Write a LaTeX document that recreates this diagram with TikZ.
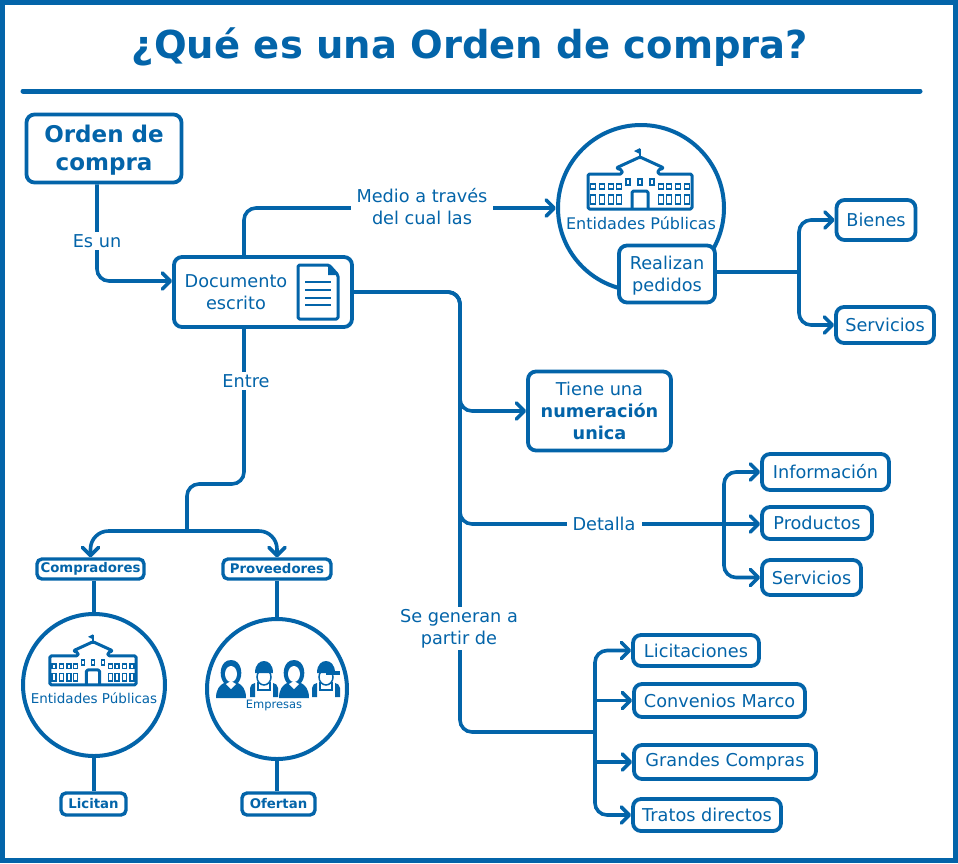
\documentclass[tikz,border=0pt]{standalone}
\usepackage{fontspec}
\setmainfont{DejaVu Sans}
\usetikzlibrary{arrows.meta}
\definecolor{ocblue}{HTML}{0364A9}
\newcommand{\tamano}[2]{\fontsize{#1}{#2}\selectfont}
\tikzset{
    link/.style={draw=ocblue, line width=3.6pt, rounded corners=12pt, >={Straight Barb[length=8pt,width=16pt,line width=3.6pt,round]}},
    caja/.style={draw=ocblue, line width=3.8pt, rounded corners=8pt, fill=white, text=ocblue, align=center, inner sep=0pt, font=\tamano{17.7}{22}},
    cajita/.style={caja, line width=3.4pt, rounded corners=5pt, font=\bfseries\tamano{13.3}{16}},
    rotulo/.style={fill=white, text=ocblue, align=center, inner sep=2pt, inner xsep=6pt, font=\tamano{17.7}{22}},
    redondo/.style={circle, draw=ocblue, line width=4pt, fill=white, inner sep=0pt},
    texto/.style={text=ocblue, align=center, inner sep=0pt},
    icono/.style={draw=ocblue, line width=3pt, rounded corners=1.5pt, line join=round},
    ventana/.style={draw=ocblue, line width=1.5pt},
    edificio/.pic={
        \draw[icono, fill=white] (-52,-5) -- (-18,-5) -- (-18,-9) -- (-24,-11) -- (0,-22) -- (24,-11) -- (18,-9) -- (18,-5)
            -- (52,-5) -- (52,30) -- (-52,30) -- cycle;
        \draw[ocblue, line width=2.5pt] (0,-22) -- (0,-30);
        \fill[ocblue] (0,-31) -- (-6,-28) -- (0,-25) -- cycle;
        \draw[icono] (-8,29) |- (8,12) -- (8,29);
        \foreach \vx in {-47,-38,-29,-21,21,29,38,47} {
            \draw[ventana] (\vx-2.5,5) rectangle (\vx+2.5,10);
            \draw[ventana] (\vx-2.5,16) rectangle (\vx+2.5,25);
        }
        \foreach \vx in {-12,0,12} \draw[ventana] (\vx-2,0) rectangle (\vx+2,6);
    },
    mujer/.pic={
        \fill[ocblue] (-15,0) .. controls (-15,-9) and (-11,-13) .. (-7,-15) .. controls (-13,-22) and (-11,-38) .. (0,-38)
            .. controls (11,-38) and (13,-22) .. (7,-15) .. controls (11,-13) and (15,-9) .. (15,0) -- cycle;
        \fill[white] (0,-24) ellipse (6pt and 8pt);
        \fill[white] (-5,-14) -- (0,-17) -- (5,-14) -- (0,-9) -- cycle;
    },
    obrero/.pic={
        \fill[ocblue] (-14,-1) -- (-14,-10) .. controls (-14,-13) and (-11,-15) .. (-9,-15) -- (-9,-1) -- cycle;
        \fill[ocblue] (14,-1) -- (14,-10) .. controls (14,-13) and (11,-15) .. (9,-15) -- (9,-1) -- cycle;
        \draw[ocblue, line width=1.5pt] (-6,-16) -- (-6,-8) -- (6,-8) -- (6,-16);
        \draw[ocblue, line width=1.5pt, fill=white] (0,-21) ellipse (7pt and 8pt);
        \fill[ocblue] (-9,-25) .. controls (-9,-34) and (-4,-37) .. (0,-37) .. controls (4,-37) and (9,-34) .. (9,-25) -- cycle;
    },
    hoja/.pic={
        \draw[icono, fill=white] (-20,-27) -- (11,-27) -- (20,-17) -- (20,27) -- (-20,27) -- cycle;
        \fill[ocblue] (10,-27) -- (10,-17) -- (20,-17) -- cycle;
        \foreach \ly in {-10,-2,6,13} \draw[ocblue, line width=2pt] (-13,\ly) -- (13,\ly);
    },
}

\begin{document}
\begin{tikzpicture}[x=1pt, y=-1pt]
    \useasboundingbox (0,0) rectangle (958,863);

    % Frame and title
    \draw[ocblue, line width=5pt] (2.5,2.5) rectangle (955.5,860.5);
    \node[texto, font=\bfseries\tamano{38.5}{46}] (titulo) at (470,47.5) {¿Qué es una Orden de compra?};
    \coordinate (reglaA) at (23,91);
    \coordinate (reglaB) at (920,91);
    \draw[ocblue, line width=5pt, line cap=round] (reglaA) -- (reglaB);

    % Left boxes
    \node[caja, minimum width=155, minimum height=68] (orden) at (104,148.5) {};
    \node[texto, font=\bfseries\tamano{23}{28}] (ordentxt) at (104,150.5) {Orden de\\compra};
    \node[caja, minimum width=178, minimum height=70] (doc) at (263,292) {};
    \node[texto, font=\tamano{17.7}{22}] (doctxt) at (236,292) {Documento\\escrito};
    \pic at (318,292) {hoja};

    % Public bodies, top
    \node[redondo, minimum size=166] (ent) at (641,208) {};
    \pic at (640,179) {edificio};
    \node[texto, font=\tamano{16}{20}] (enttxt) at (641,223) {Entidades Públicas};
    \node[caja, minimum width=96, minimum height=57] (pedidos) at (667,274) {};
    \node[texto, font=\tamano{17.7}{22}] (pedidostxt) at (667,276) {Realizan\\pedidos};
    \node[caja, minimum width=79, minimum height=40] (bienes) at (876,220) {Bienes};
    \node[caja, minimum width=98, minimum height=36] (serv) at (885,325) {Servicios};

    % Middle boxes
    \node[caja, minimum width=143, minimum height=79] (num) at (599.5,411) {Tiene una\\\textbf{numeración}\\\textbf{unica}};
    \node[caja, minimum width=127, minimum height=36] (info) at (825.5,472) {Información};
    \node[caja, minimum width=110, minimum height=32] (prod) at (817,523) {Productos};
    \node[caja, minimum width=99, minimum height=35] (serv2) at (811.5,577.5) {Servicios};

    % Purchase types
    \node[caja, minimum width=126, minimum height=31] (lic) at (696,650.5) {Licitaciones};
    \node[caja, minimum width=171, minimum height=33] (conv) at (719.5,700.5) {Convenios Marco};
    \node[caja, minimum width=182, minimum height=34] (gran) at (725,762) {Grandes Compras};
    \node[caja, minimum width=148, minimum height=32] (trat) at (707,815) {Tratos directos};

    % Buyers and suppliers
    \node[cajita, minimum width=107, minimum height=20] (comp) at (90.5,569) {Compradores};
    \node[cajita, minimum width=108, minimum height=20] (prov) at (277,569) {Proveedores};
    \node[redondo, minimum size=142] (ent2) at (94,685) {};
    \pic[scale=0.83] at (93,660) {edificio};
    \node[texto, font=\tamano{13.5}{18}] (ent2txt) at (94,698) {Entidades Públicas};
    \node[redondo, minimum size=140] (emp) at (277,689) {};
    \pic at (231,698) {mujer};
    \pic at (264,698) {obrero};
    \pic at (294,698) {mujer};
    \pic at (326,698) {obrero};
    \fill[ocblue] (326,671) -- (340,671) -- (340,675) -- (326,675) -- cycle;
    \node[texto, font=\tamano{11.5}{15}] (emptxt) at (274,705) {Empresas};
    \node[cajita, minimum width=65, minimum height=22] (licit) at (93.5,804) {Licitan};
    \node[cajita, minimum width=73, minimum height=22] (ofer) at (278.5,804) {Ofertan};

    % Junction points
    \coordinate (giroA) at (460,411);
    \coordinate (giroB) at (460,524);
    \coordinate (giroC) at (460,732);
    \coordinate (abanico) at (595,732);
    \coordinate (ramaA) at (799,272);
    \coordinate (ramaB) at (724,524);
    \coordinate (codo) at (187,484);
    \coordinate (ramaC) at (187,531);

    % Connectors
    \draw[link, ->] ([xshift=-7pt]orden.south) |- ([yshift=11pt]doc.west);
    \draw[link, ->] ([xshift=-19pt]doc.north) |- (ent.west);
    \draw[link, ->] (doc.east) -| (giroA) -- (num.west);
    \draw[link] (doc.east) -| (giroB) -- (ramaB);
    \draw[link] (doc.east) -| (giroC) -- (abanico);
    \draw[link] (pedidos.east |- ramaA) -- (ramaA);
    \draw[link, ->] (ramaA) |- (bienes.west);
    \draw[link, ->] (ramaA) |- (serv.west);
    \draw[link, ->] (ramaB) |- (info.west);
    \draw[link, ->] (ramaB) -- (prod.west |- ramaB);
    \draw[link, ->] (ramaB) |- (serv2.west);
    \draw[link, ->] (abanico) |- (lic.west);
    \draw[link, ->] (abanico |- conv.west) -- (conv.west);
    \draw[link, ->] (abanico |- gran.west) -- (gran.west);
    \draw[link, ->] (abanico) |- (trat.west);
    \draw[link] ([xshift=-19pt]doc.south) |- (codo) -- (ramaC);
    \draw[link, ->, rounded corners=18pt] (ramaC) -| (comp.north);
    \draw[link, ->, rounded corners=18pt] (ramaC) -| (prov.north);
    \draw[link] (ent2.north |- comp.south) -- (ent2.north);
    \draw[link] (ent2.south) -- (ent2.south |- licit.north);
    \draw[link] (emp.north |- prov.south) -- (emp.north);
    \draw[link] (emp.south) -- (emp.south |- ofer.north);

    % Connector labels
    \node[rotulo] (esun) at (97,241) {Es un};
    \node[rotulo] (medio) at (422,207) {Medio a través\\del cual las};
    \node[rotulo] (entre) at (246,381) {Entre};
    \node[rotulo] (detalla) at (604,524) {Detalla};
    \node[rotulo] (genera) at (459,628.5) {Se generan a\\partir de};
\end{tikzpicture}
\end{document}
